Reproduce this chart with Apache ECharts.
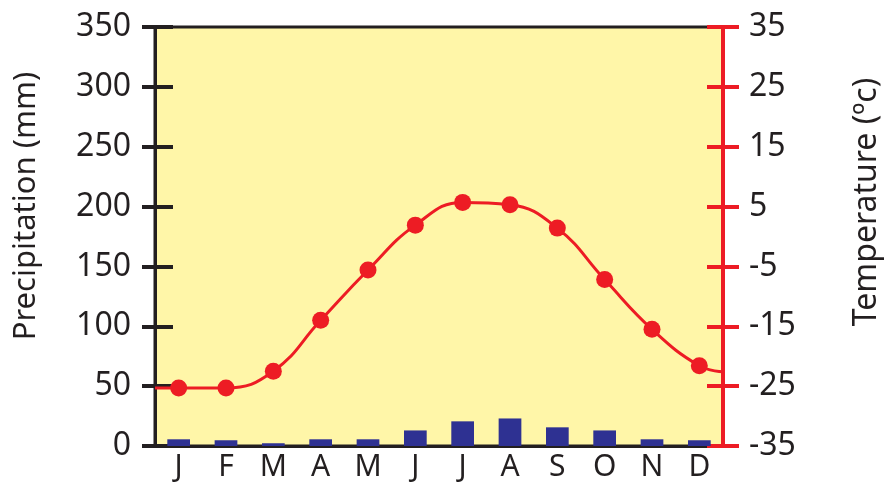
<!DOCTYPE html>
<html>
<head>
<meta charset="utf-8">
<script src="https://cdn.jsdelivr.net/npm/echarts@6/dist/echarts.min.js"></script>
<style>
  html, body { margin: 0; padding: 0; background: #fff; }
  #chart { width: 885px; height: 491px; }
</style>
</head>
<body>
<div id="chart"></div>
<script>
var months = ['J', 'F', 'M', 'A', 'M', 'J', 'J', 'A', 'S', 'O', 'N', 'D'];
var precip = [5.6, 4.8, 2.3, 5.6, 5.6, 13, 20.6, 23, 15.6, 13, 5.6, 4.8];
var temp = [-25.3, -25.3, -22.5, -14.0, -5.6, 1.9, 5.7, 5.3, 1.4, -7.2, -15.5, -21.6];
// the curve runs on to both plot edges
var tempLeftEdge = -25.3;
var tempRightEdge = -22.6;
var precipTicks = [0, 50, 100, 150, 200, 250, 300, 350];
var tempTicks = [-35, -25, -15, -5, 5, 15, 25, 35];

var ink = '#231f20';
var red = '#ed1c24';
var font = 'Noto Sans';

var lineData = [{ value: [0, tempLeftEdge], symbol: 'none' }];
for (var i = 0; i < temp.length; i++) {
  lineData.push([i + 0.5, temp[i]]);
}
lineData.push({ value: [months.length, tempRightEdge], symbol: 'none' });

var chart = echarts.init(document.getElementById('chart'));

var option = {
  animation: false,
  grid: {
    left: 155, right: 162, top: 27, bottom: 45,
    show: true,
    backgroundColor: '#fff6a8',
    borderColor: ink,
    borderWidth: 3
  },
  xAxis: [
    {
      type: 'category',
      data: months,
      axisLine: { lineStyle: { color: ink, width: 3 } },
      axisTick: { length: 14, lineStyle: { color: ink, width: 4 } },
      axisLabel: { color: ink, fontSize: 30, fontFamily: font, margin: 6 }
    },
    {
      type: 'category',
      data: months,
      position: 'bottom',
      axisLine: { show: false },
      axisTick: { inside: true, length: 12, lineStyle: { color: ink, width: 4 } },
      axisLabel: { show: false }
    },
    { type: 'value', min: 0, max: months.length, show: false }
  ],
  yAxis: [
    {
      type: 'value', position: 'left', min: 0, max: 350, interval: 50,
      splitLine: { show: false },
      axisLine: { show: true, lineStyle: { color: ink, width: 3 } },
      axisTick: { show: true, length: 13, lineStyle: { color: ink, width: 4 } },
      axisLabel: {
        color: ink, fontSize: 32, fontFamily: font, margin: 24,
        formatter: function (v) { return precipTicks[Math.round(v / 50)]; }
      }
    },
    {
      type: 'value', position: 'left', min: 0, max: 350, interval: 50,
      splitLine: { show: false },
      axisLine: { show: false },
      axisTick: { show: true, inside: true, length: 18, lineStyle: { color: ink, width: 4 } },
      axisLabel: { show: false }
    },
    {
      type: 'value', position: 'right', min: 0, max: 350, interval: 50,
      splitLine: { show: false },
      axisLine: { show: true, lineStyle: { color: red, width: 4 } },
      axisTick: { show: true, length: 16, lineStyle: { color: red, width: 4 } },
      axisLabel: {
        color: ink, fontSize: 32, fontFamily: font, margin: 26,
        formatter: function (v) { return tempTicks[Math.round(v / 50)]; }
      }
    },
    {
      type: 'value', position: 'right', min: 0, max: 350, interval: 50,
      splitLine: { show: false },
      axisLine: { show: false },
      axisTick: { show: true, inside: true, length: 16, lineStyle: { color: red, width: 4 } },
      axisLabel: { show: false }
    },
    { type: 'value', position: 'right', min: -35, max: 35, show: false }
  ],
  graphic: [
    {
      type: 'text', x: 26, y: 206, rotation: Math.PI / 2,
      style: {
        text: 'Precipitation (mm)', fill: ink, font: '31px "Noto Sans"',
        textAlign: 'center', textVerticalAlign: 'middle'
      }
    },
    {
      type: 'text', x: 867, y: 202, rotation: Math.PI / 2,
      style: {
        text: 'Temperature (ºc)', fill: ink, font: '32px "Noto Sans"',
        textAlign: 'center', textVerticalAlign: 'middle'
      }
    }
  ],
  series: [
    {
      type: 'bar',
      data: precip,
      xAxisIndex: 0,
      yAxisIndex: 0,
      barWidth: '48%',
      itemStyle: { color: '#2e3192' }
    },
    {
      type: 'line',
      data: lineData,
      xAxisIndex: 2,
      yAxisIndex: 4,
      smooth: 0.45,
      symbol: 'circle',
      symbolSize: 17,
      lineStyle: { color: red, width: 3 },
      itemStyle: { color: red }
    }
  ]
};

chart.setOption(option);
</script>
</body>
</html>
